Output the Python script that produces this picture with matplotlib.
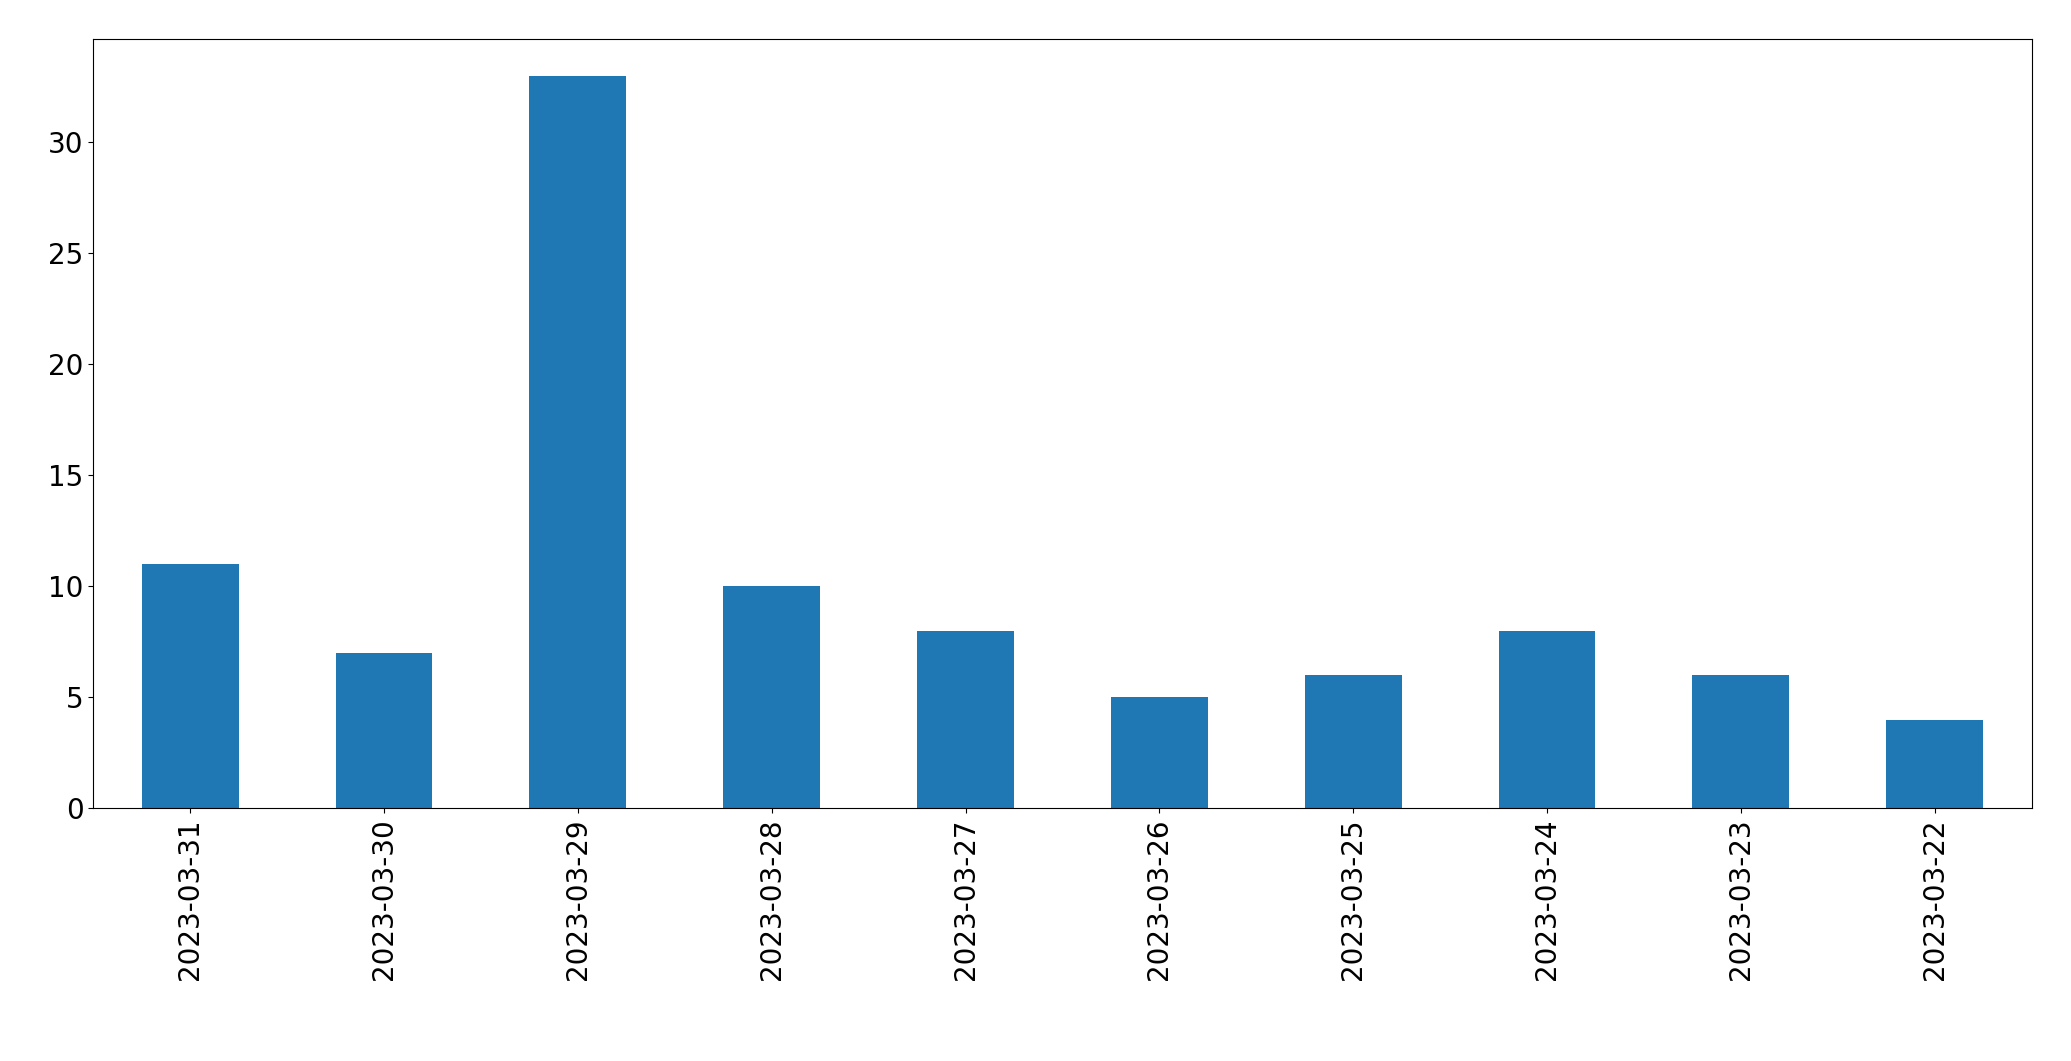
import matplotlib
matplotlib.use("Agg")
import matplotlib.pyplot as plt
import pandas as pd

dates = ["2023-03-31", "2023-03-30", "2023-03-29", "2023-03-28", "2023-03-27",
         "2023-03-26", "2023-03-25", "2023-03-24", "2023-03-23", "2023-03-22"]
counts = [11, 7, 33, 10, 8, 5, 6, 8, 6, 4]

s = pd.Series(counts, index=dates)

fig = plt.figure(figsize=(20.71, 10.61), dpi=100)
ax = fig.add_axes([0.045, 0.238, 0.936, 0.725])
s.plot.bar(ax=ax, color="#1f77b4", fontsize=20)
ax.tick_params(axis="both", labelsize=20)

fig.savefig("out.png", dpi=100)
